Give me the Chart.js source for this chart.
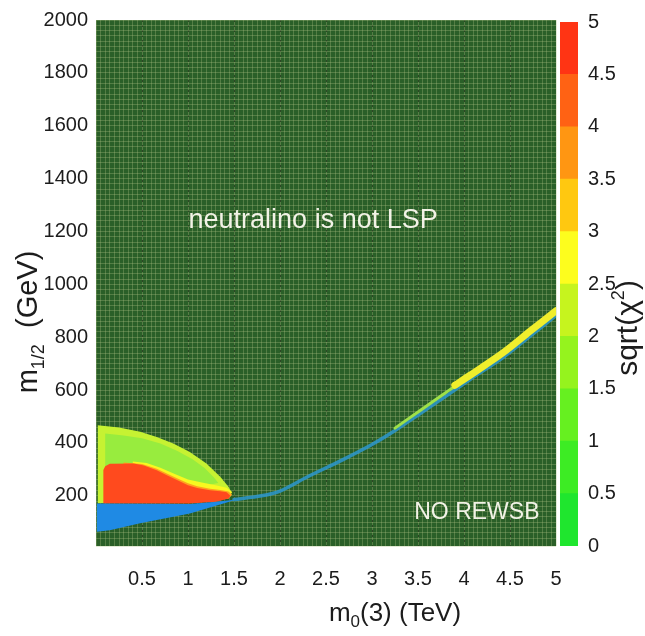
<!DOCTYPE html>
<html lang="en">
<head>
<meta charset="UTF-8">
<title>m0(3) - m1/2 scan</title>
<style>
    html, body { margin: 0; padding: 0; background: #fff; }
    #wrap { position: relative; width: 645px; height: 636px; }
    #scan { position: absolute; left: 0; top: 0; }
    #cbar { position: absolute; left: 540px; top: 0; }
</style>
</head>
<body>
<div id="wrap">
    <canvas id="scan" width="645" height="636"></canvas>
    <canvas id="cbar" width="105" height="636"></canvas>
</div>

<script src="https://cdn.jsdelivr.net/npm/chart.js@4.4.1/dist/chart.umd.min.js"></script>
<script>
    const FONT = '"Liberation Sans", Arial, Helvetica, sans-serif';
    const TEXT = '#1c1c1c';

    // axis ranges: m0(3) in TeV, m1/2 in GeV
    const X_MIN = 0, X_MAX = 5;
    const Y_MIN = 10, Y_MAX = 2000;

    const xTickLabels = [0.5, 1, 1.5, 2, 2.5, 3, 3.5, 4, 4.5, 5];
    const yTickLabels = [200, 400, 600, 800, 1000, 1200, 1400, 1600, 1800, 2000];

    // colour scale for sqrt(chi^2)
    const chiEdges = [0, 0.5, 1, 1.5, 2, 2.5, 3, 3.5, 4, 4.5, 5];
    const chiColors = ['#1fe62e', '#3dec24', '#66f020', '#95f31e', '#c6f41e',
                       '#fdfd1e', '#ffc810', '#ff9612', '#ff6214', '#ff3414'];

    // allowed region at small m0, as [m0, m1/2] outlines
    const outerRegion = [[0.02, 172], [0.02, 467], [0.25, 458], [0.48, 442], [0.66, 422], [0.84, 398],
                         [1.02, 366], [1.2, 322], [1.35, 272], [1.44, 234], [1.47, 215], [1.46, 196], [1.3, 180]];
    const greenRegion = [[0.1, 300], [0.1, 436], [0.3, 428], [0.5, 418], [0.7, 398], [0.88, 370],
                         [1.05, 338], [1.18, 305], [1.28, 270], [1.33, 248], [1.2, 240], [1.0, 250],
                         [0.8, 285], [0.6, 310], [0.4, 320]];
    const yellowBand = [[0.4, 330], [0.55, 324], [0.7, 306], [0.85, 283], [1.0, 262], [1.15, 250],
                        [1.3, 240], [1.42, 230], [1.48, 214], [1.44, 190], [0.4, 190]];
    const orangeBand = [[0.3, 326], [0.5, 320], [0.66, 302], [0.77, 284], [0.88, 266], [1.0, 247],
                        [1.1, 236], [1.24, 227], [1.35, 222], [1.44, 216], [1.48, 204], [1.44, 190], [0.3, 190]];
    const redRegion = [[0.08, 171], [0.08, 298], [0.1, 312], [0.15, 321], [0.41, 322], [0.52, 315],
                       [0.66, 297], [0.77, 278], [0.88, 260], [1.0, 240], [1.1, 229], [1.24, 221],
                       [1.35, 217], [1.42, 213], [1.46, 200], [1.44, 190], [1.31, 177], [1.02, 171]];
    const blueRegion = [[0.01, 64], [0.01, 171], [1.02, 169], [1.31, 177], [1.53, 186],
                        [1.02, 133], [0.48, 96], [0.15, 70]];

    // narrow strip along the LSP boundary
    const stripBlue = [[1.5, 186], [1.8, 200], [2.0, 218], [2.3, 272], [2.68, 336], [3.0, 394], [3.23, 442],
                       [3.52, 510], [3.8, 576], [4.07, 641], [4.42, 722], [4.72, 804], [5.0, 882]];
    const stripGreen = [[3.25, 456], [3.52, 522], [3.8, 590], [4.0, 636]];
    const stripYellow = [[3.9, 618], [4.07, 657], [4.42, 740], [4.72, 823], [5.0, 900]];

    const toPts = arr => arr.map(([x, y]) => ({x, y}));

    function pick(list, v) {
        const hit = list.find(t => Math.abs(t - v) < 1e-6);
        return hit === undefined ? '' : String(hit);
    }

    function polygon(label, pts, color, order) {
        return {
            label, order,
            data: toPts(pts.concat([pts[0]])),
            showLine: true,
            fill: 'shape',
            backgroundColor: color,
            borderColor: 'rgba(0,0,0,0)',
            borderWidth: 0,
            pointRadius: 0,
            tension: 0
        };
    }

    function trace(label, pts, color, width, order) {
        return {
            label, order,
            data: toPts(pts),
            showLine: true,
            fill: false,
            borderColor: color,
            borderWidth: width,
            borderCapStyle: 'round',
            borderJoinStyle: 'round',
            pointRadius: 0,
            tension: 0.3
        };
    }

    // draws a list of [text, size, dy] runs centred on (0, 0)
    function drawRuns(ctx, runs) {
        let total = 0;
        for (const [t, size] of runs) {
            ctx.font = size + 'px ' + FONT;
            total += ctx.measureText(t).width;
        }
        let x = -total / 2;
        ctx.textAlign = 'left';
        ctx.textBaseline = 'alphabetic';
        for (const [t, size, dy] of runs) {
            ctx.font = size + 'px ' + FONT;
            ctx.fillText(t, x, dy);
            x += ctx.measureText(t).width;
        }
    }

    const plotBackground = {
        id: 'plotBackground',
        beforeDraw(chart) {
            const {ctx, chartArea: a} = chart;
            ctx.save();
            ctx.fillStyle = '#2a5f28';
            ctx.fillRect(a.left, a.top, a.right - a.left, a.bottom - a.top);
            ctx.restore();
        }
    };

    const annotations = {
        id: 'annotations',
        afterDraw(chart) {
            const {ctx, scales: {x, y}} = chart;
            ctx.save();
            ctx.fillStyle = '#f2f2e6';
            ctx.textAlign = 'center';
            ctx.textBaseline = 'middle';
            ctx.font = '27px ' + FONT;
            ctx.fillText('neutralino is not LSP', x.getPixelForValue(2.36), y.getPixelForValue(1240));
            ctx.font = '23px ' + FONT;
            ctx.fillText('NO REWSB', x.getPixelForValue(4.14), y.getPixelForValue(138));

            ctx.fillStyle = TEXT;
            // x axis title
            ctx.save();
            ctx.translate(395, 621);
            drawRuns(ctx, [['m', 26, 0], ['0', 17, 6], ['(3) (TeV)', 26, 0]]);
            ctx.restore();
            // y axis title
            ctx.save();
            ctx.translate(37, 322);
            ctx.rotate(-Math.PI / 2);
            drawRuns(ctx, [['m', 29, 0], ['1/2', 18, 7], ['  (GeV)', 29, 0]]);
            ctx.restore();
            ctx.restore();
        }
    };

    const GRID = 'rgba(170, 192, 130, 0.33)';
    const MAJOR = 'rgba(0, 0, 0, 0.45)';

    new Chart(document.getElementById('scan'), {
        type: 'scatter',
        data: {
            datasets: [
                polygon('outer', outerRegion, '#c6f232', 9),
                polygon('green', greenRegion, '#98ec3e', 8),
                polygon('yellow', yellowBand, '#f8f820', 7),
                polygon('orange', orangeBand, '#ffa020', 6),
                polygon('red', redRegion, '#ff4a1e', 5),
                polygon('blue', blueRegion, '#1f8ae4', 4),
                trace('strip blue', stripBlue, 'rgba(44, 150, 206, 0.85)', 3.5, 3),
                trace('strip green', stripGreen, '#9ee048', 3, 2),
                trace('strip yellow', stripYellow, '#f0ee2c', 7, 1)
            ]
        },
        options: {
            responsive: false,
            animation: false,
            events: [],
            layout: {padding: {left: 0, right: 89, top: 19, bottom: 0}},
            plugins: {legend: {display: false}, tooltip: {enabled: false}},
            scales: {
                x: {
                    type: 'linear',
                    min: X_MIN,
                    max: X_MAX,
                    afterFit: s => { s.height = 90; },
                    grid: {color: GRID, lineWidth: 1, drawTicks: false},
                    border: {display: false},
                    ticks: {
                        stepSize: 0.05,
                        autoSkip: false,
                        maxRotation: 0,
                        padding: 21,
                        color: TEXT,
                        font: {family: FONT, size: 20},
                        callback: v => pick(xTickLabels, v)
                    }
                },
                // dotted major grid drawn over the coloured regions
                xMajor: {
                    type: 'linear',
                    position: 'bottom',
                    min: X_MIN,
                    max: X_MAX,
                    z: 1,
                    afterFit: s => { s.height = 0; },
                    grid: {
                        color: c => (c.tick && (c.tick.value <= X_MIN || c.tick.value >= X_MAX)) ? 'rgba(0,0,0,0)' : MAJOR,
                        lineWidth: 1,
                        drawTicks: false
                    },
                    border: {display: false, dash: [2, 3]},
                    ticks: {display: false, stepSize: 0.5}
                },
                y: {
                    type: 'linear',
                    min: Y_MIN,
                    max: Y_MAX,
                    afterFit: s => { s.width = 96; },
                    grid: {color: GRID, lineWidth: 1, drawTicks: false},
                    border: {display: false},
                    ticks: {
                        stepSize: 20,
                        autoSkip: false,
                        padding: 8,
                        color: TEXT,
                        font: {family: FONT, size: 20},
                        callback: v => pick(yTickLabels, v)
                    }
                }
            }
        },
        plugins: [plotBackground, annotations]
    });

    const cbarTitle = {
        id: 'cbarTitle',
        afterDraw(chart) {
            const {ctx} = chart;
            ctx.save();
            ctx.fillStyle = TEXT;
            ctx.translate(97, 328);
            ctx.rotate(-Math.PI / 2);
            drawRuns(ctx, [['sqrt(\u03c7', 30, 0], ['2', 18, -13], [')', 30, 0]]);
            ctx.restore();
        }
    };

    new Chart(document.getElementById('cbar'), {
        type: 'bar',
        data: {
            labels: [''],
            datasets: chiColors.map((c, i) => ({
                data: [[chiEdges[i], chiEdges[i + 1]]],
                backgroundColor: c,
                borderWidth: 0,
                grouped: false,
                barPercentage: 1,
                categoryPercentage: 1
            }))
        },
        options: {
            responsive: false,
            animation: false,
            events: [],
            layout: {padding: {left: 20, right: 0, top: 19, bottom: 90}},
            plugins: {legend: {display: false}, tooltip: {enabled: false}},
            scales: {
                x: {display: false},
                y: {
                    position: 'right',
                    min: 0,
                    max: 5,
                    afterFit: s => { s.width = 67; },
                    grid: {display: false, drawTicks: false},
                    border: {display: false},
                    ticks: {
                        stepSize: 0.5,
                        padding: 10,
                        color: TEXT,
                        font: {family: FONT, size: 20},
                        callback: v => pick(chiEdges, v)
                    }
                }
            }
        },
        plugins: [cbarTitle]
    });
</script>
</body>
</html>
